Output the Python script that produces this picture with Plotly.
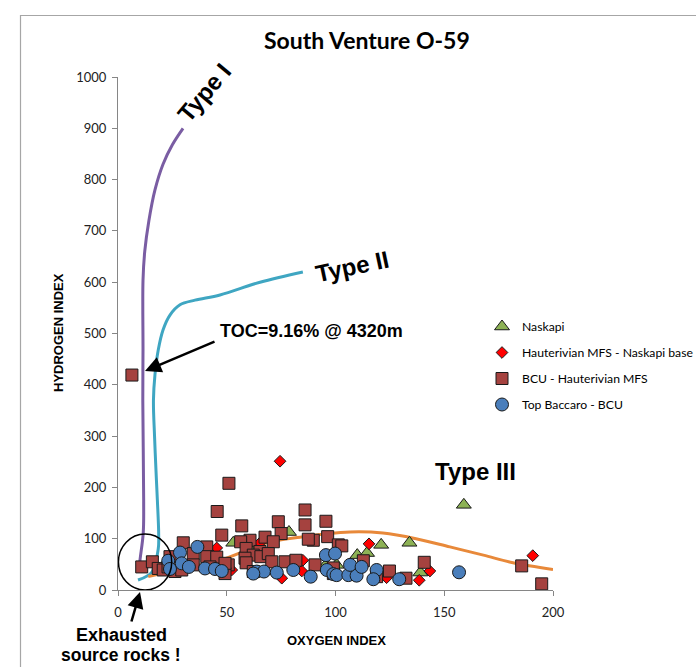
import plotly.graph_objects as go

# ---- Kerogen type reference curves (Oxygen Index, Hydrogen Index) ----
type1_oi = [9.7, 10.1, 11.6, 11.8, 11.4, 11.5, 11.5, 12.3, 14.2, 17.0, 20.7, 25.0, 29.9]
type1_hi = [39, 58, 111, 175, 370, 468, 604, 660, 720, 780, 830, 868, 900]

type2_oi = [9.2, 15.6, 18.5, 18.7, 18.1, 17.6, 16.8, 16.3, 17.0, 18.5, 20.7, 23.9, 28.5, 35.4, 46.9, 65.3, 85.0]
type2_hi = [19.5, 35, 80, 110, 175, 220, 300, 370, 420, 468, 507, 536, 556, 565, 575, 600, 620]

type3_oi = [13.9, 30, 46.9, 68.5, 83.7, 106.7, 121.8, 137, 152.6, 168, 181.6, 200]
type3_hi = [26, 42, 58, 92, 103, 113, 111, 100, 84, 68, 53, 40]

# ---- Sample series ----
naskapi_oi = [159, 134, 121, 110, 114.5, 100.5, 139, 78.6, 53, 60.7, 95.6]
naskapi_hi = [166, 92, 88, 68, 72, 49, 34, 113, 92, 78, 49]

hauter_oi = [74.5, 190.7, 115.4, 143.4, 138.5, 123.5, 85, 84.5, 75.3, 65.3, 52.3, 45.4]
hauter_hi = [251, 67, 90, 37, 19, 24, 58, 37, 23, 92, 39, 82]

bcu_oi = [6.4, 194.8, 185.6, 51, 45.6, 86, 86, 73.7, 56.9, 95.6, 47.7, 75, 67.6, 96.4,
          89.8, 87.5, 71.4, 60.7, 56.4, 101.3, 65.3, 58.9, 62.2, 65.7, 69.1, 58.4, 58.9,
          70.7, 76.8, 81.8, 90.6, 50.7, 49.2, 62.2, 99, 30, 40.8, 34.6, 40.8, 45.4, 10.9,
          15.8, 18.5, 20.8, 23, 26.2, 29.3, 34.6, 23.9, 42.3, 49.2, 102.9, 112.8, 140.8,
          124.8, 132.4, 118.9, 99]
bcu_hi = [419, 12, 47, 208, 153, 156, 127, 133, 125, 134, 107, 110, 103, 104,
          97, 99, 94, 97, 94, 88, 75, 81, 68, 65, 71, 62, 53,
          55, 55, 58, 49, 49, 32, 36, 32, 92, 84, 71, 65, 64, 45,
          55, 42, 39, 45, 36, 39, 49, 65, 45, 52, 86, 57, 54,
          37, 23, 26, 43]

baccaro_oi = [28.5, 36.5, 23.1, 23.9, 29.3, 32.6, 40, 44.6, 47.7, 63.8, 67.1, 73, 80.6,
              88.6, 95.6, 99.8, 96, 99, 62.2, 100.5, 105.9, 109.7, 106.7, 112, 118.9,
              117.4, 129.3, 156.8]
baccaro_hi = [73, 84, 57, 41, 52, 45, 42, 41, 37, 36, 36, 34, 39,
              26, 68, 71, 39, 31, 32, 29, 29, 28, 49, 45, 39,
              21, 21, 34.5]

x_ticks = [0, 50, 100, 150, 200]
y_ticks = [0, 100, 200, 300, 400, 500, 600, 700, 800, 900, 1000]

# ---- Layout geometry (pixels) ----
W, H = 696, 667
L, R, T, B = 118, 553, 77, 590


def px_x(p):
    return (p - L) / (R - L)


def px_y(p):
    return (B - p) / (B - T)


fig = go.Figure()

curve_style = dict(mode="lines", showlegend=False, hoverinfo="skip",
                   line_shape="spline")
fig.add_trace(go.Scatter(x=type1_oi, y=type1_hi, line=dict(color="#7A5DA3", width=3),
                         **curve_style))
fig.add_trace(go.Scatter(x=type2_oi, y=type2_hi, line=dict(color="#3FA6C2", width=3),
                         **curve_style))
fig.add_trace(go.Scatter(x=type3_oi, y=type3_hi, line=dict(color="#E8893A", width=3),
                         **curve_style))

outline = dict(color="#1a1a1a", width=1)
fig.add_trace(go.Scatter(
    x=naskapi_oi, y=naskapi_hi, mode="markers", name="Naskapi",
    legendgroup="g1", cliponaxis=False,
    marker=dict(symbol="triangle-up", size=13, color="#8DB255", line=outline)))
fig.add_trace(go.Scatter(
    x=hauter_oi, y=hauter_hi, mode="markers", name="Hauterivian MFS - Naskapi base",
    legendgroup="g2", cliponaxis=False,
    marker=dict(symbol="diamond", size=9, color="#FF0000", line=outline)))
fig.add_trace(go.Scatter(
    x=bcu_oi, y=bcu_hi, mode="markers", name="BCU - Hauterivian MFS",
    legendgroup="g3", cliponaxis=False,
    marker=dict(symbol="square", size=12, color="#A5423F", line=outline)))
fig.add_trace(go.Scatter(
    x=baccaro_oi, y=baccaro_hi, mode="markers", name="Top Baccaro - BCU",
    legendgroup="g4", cliponaxis=False,
    marker=dict(symbol="circle", size=13, color="#4A7EBB", line=outline)))

axis_common = dict(showgrid=False, zeroline=False, showline=True, linecolor="#868686",
                   linewidth=1, ticks="outside", ticklen=5, tickcolor="#868686",
                   tickfont=dict(family="Lato", size=13, color="#222222"))
fig.update_xaxes(range=[0, 200], tickvals=x_ticks, ticklabelstandoff=5, **axis_common)
fig.update_yaxes(range=[0, 1000], tickvals=y_ticks, ticklabelstandoff=3, **axis_common)


def label(text, xp, yp, size, angle=0, family="Liberation Sans"):
    return dict(text=text, x=px_x(xp), y=px_y(yp), xref="paper", yref="paper",
                xanchor="center", yanchor="middle", showarrow=False, textangle=angle,
                font=dict(family=family, size=size, color="black"))


annotations = [
    label("<b>South Venture O-59</b>", 367, 40, 23, family="Lato"),
    label("<b>HYDROGEN INDEX</b>", 58, 333, 13, angle=-90),
    label("<b>OXYGEN INDEX</b>", 336, 640, 13),
    label("<b>Type I</b>", 204, 92, 24, angle=-50),
    label("<b>Type II</b>", 352, 266, 24, angle=-12),
    label("<b>Type III</b>", 475, 471, 24),
    label("<b>TOC=9.16% @ 4320m</b>", 311, 331, 18),
    label("<b>Exhausted</b>", 121, 635, 18),
    label("<b>source rocks !</b>", 121, 655, 17.5),
    # arrow pointing to the high-HI sample
    dict(text="", x=px_x(145), y=px_y(371), xref="paper", yref="paper",
         showarrow=True, ax=71, ay=-30, arrowhead=2, arrowsize=1.3, arrowwidth=2.5,
         arrowcolor="black"),
    # arrow pointing to the exhausted cluster
    dict(text="", x=px_x(140), y=px_y(592), xref="paper", yref="paper",
         showarrow=True, ax=-9, ay=31, arrowhead=2, arrowsize=1.3, arrowwidth=2.5,
         arrowcolor="black"),
]

shapes = [
    # outer chart frame
    dict(type="rect", xref="paper", yref="paper", x0=px_x(20.5), y0=px_y(720),
         x1=px_x(760), y1=px_y(15.5), line=dict(color="#A6A6A6", width=1.2),
         layer="below"),
    # ring around the exhausted samples
    dict(type="circle", xref="x", yref="y", x0=0.2, x1=24.7, y0=0, y1=109,
         line=dict(color="black", width=1.5)),
]

fig.update_layout(
    width=W, height=H,
    margin=dict(l=L, r=W - R, t=T, b=H - B, pad=0, autoexpand=False),
    paper_bgcolor="white", plot_bgcolor="white",
    annotations=annotations, shapes=shapes,
    legend=dict(x=px_x(482), y=px_y(312), xanchor="left", yanchor="top",
                font=dict(family="Lato", size=12.2, color="black"),
                tracegroupgap=7, bgcolor="rgba(0,0,0,0)"),
    showlegend=True,
)

fig.write_html("out.html")
